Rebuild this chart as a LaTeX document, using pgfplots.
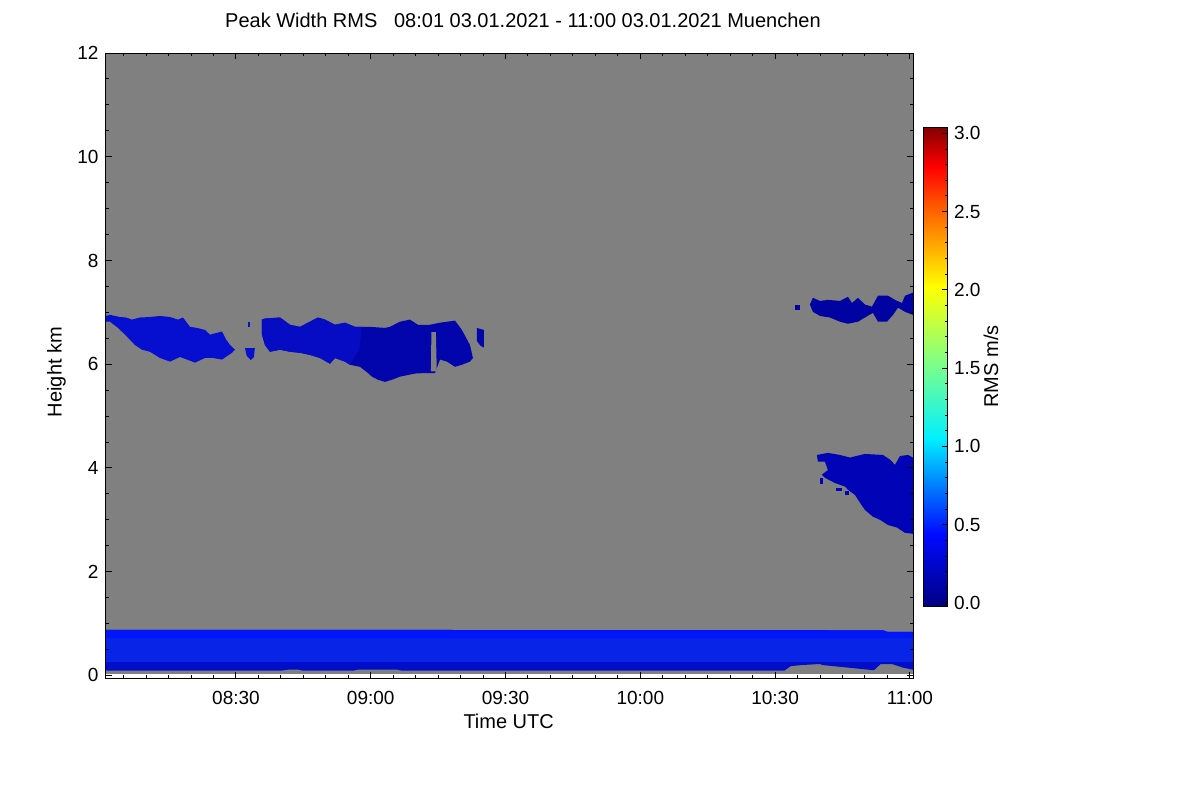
\documentclass[border=0pt]{standalone}
\usepackage{fontspec}
\setmainfont{Liberation Sans}
\usepackage{pgfplots}
\pgfplotsset{compat=1.18}
\definecolor{bggray}{RGB}{128,128,128}
\definecolor{bldark}{RGB}{0,14,202}
\definecolor{blmid}{RGB}{8,36,230}
\definecolor{bltop}{RGB}{0,22,248}
\definecolor{cla}{RGB}{6,14,208}
\definecolor{clb}{RGB}{2,4,172}
\definecolor{clbl}{RGB}{5,12,196}
\definecolor{clc}{RGB}{0,2,162}
\definecolor{cld}{RGB}{0,4,182}
\pgfplotsset{colormap={rms}{rgb255(0pt)=(0,0,130); rgb255(45pt)=(0,10,255); rgb255(105pt)=(0,240,255); rgb255(150pt)=(120,255,140); rgb255(200pt)=(255,255,0); rgb255(250pt)=(255,90,0); rgb255(275pt)=(255,0,0); rgb255(300pt)=(130,0,0)}}
\begin{document}
\begin{tikzpicture}
\path[use as bounding box] (0,0) rectangle (600pt,400pt);
\begin{axis}[
  at={(52.75pt,61pt)}, anchor=south west,
  scale only axis, width=403.75pt, height=312.5pt,
  xmin=0.96, xmax=180.7, ymin=-0.05, ymax=12,
  axis on top,
  xtick={30,60,90,120,150,180},
  xticklabels={08:30,09:00,09:30,10:00,10:30,11:00},
  minor xtick={5,10,...,175},
  ytick={0,2,...,12},
  minor ytick={0.5,1,...,11.5},
  tick align=inside,
  major tick length=3pt, minor tick length=1.7pt,
  every tick/.style={black, line width=0.5pt},
  axis line style={line width=0.5pt},
  tick label style={font=\fontsize{9.5}{11}\selectfont},
  /pgf/number format/assume math mode=true,
  xticklabel style={anchor=base, yshift=-13.15pt},
  xlabel={Time UTC},
  xlabel style={font=\fontsize{10}{12}\selectfont, at={(axis description cs:0.4993,-0.08)}, anchor=base},
  ylabel={Height km},
  ylabel style={font=\fontsize{10}{12}\selectfont, at={(axis description cs:-0.0542,0.4896)}, anchor=base},
  title={Peak Width RMS\ \ \ 08:01 03.01.2021 - 11:00 03.01.2021 Muenchen},
  title style={font=\fontsize{10}{12}\selectfont, at={(axis description cs:0.517,1.0219)}, anchor=base},
  colorbar, colormap name=rms, point meta min=-0.02, point meta max=3.04,
  colorbar style={
    scale only axis,
    at={(parent axis.north east)}, anchor=north west, xshift=-3.5pt, yshift=-37pt,
    width=12pt, height=239.5pt,
    ytick={0,0.5,...,3},
    minor tick num=4,
    ytick pos=right, yticklabel pos=right,
    tick align=inside,
    major tick length=2.5pt, minor tick length=1.2pt,
    every tick/.style={black, line width=0.4pt},
    axis line style={line width=0.5pt},
    yticklabel style={font=\fontsize{9.5}{11}\selectfont, /pgf/number format/.cd, fixed, fixed zerofill, precision=1, assume math mode=true},
    ylabel={RMS m/s},
    ylabel style={font=\fontsize{10}{12}\selectfont, at={(axis description cs:3.125,0.5)}, anchor=base},
  },
]
% no-data background
\addplot[fill=bggray, draw=none] coordinates {(0.96,0.03) (180.7,0.03) (180.7,12) (0.96,12)} --cycle;
% boundary layer
\addplot[fill=bldark, draw=none] coordinates {
(0.96,0.09) (40,0.09) (41.5,0.11) (44,0.11) (45,0.09) (56,0.09) (57,0.11) (66,0.11) (67,0.09)
(152,0.09) (153.5,0.18) (156,0.20) (160,0.22) (160.5,0.20) (172,0.10) (173.5,0.22) (176,0.22) (178.5,0.15) (180.7,0.11)
(180.7,0.84) (175,0.84) (174,0.87) (0.96,0.88)} --cycle;
\addplot[fill=blmid, draw=none] coordinates {(0.96,0.26) (180.7,0.26) (180.7,0.72) (0.96,0.72)} --cycle;
\addplot[fill=bltop, draw=none] coordinates {(0.96,0.72) (180.7,0.72) (180.7,0.84) (175,0.84) (174,0.87) (0.96,0.88)} --cycle;
% cloud 1
\addplot[fill=cla, draw=none] coordinates {
(0.96,6.93) (1.96,6.95) (4.18,6.91) (5.52,6.90) (6.86,6.86) (8.64,6.90) (10.86,6.91) (13.09,6.93) (15.31,6.91)
(17.09,6.86) (18.21,6.90) (19.76,6.72) (21.32,6.70) (23.10,6.66) (24.22,6.57) (26.89,6.63) (27.78,6.48) (28.67,6.37)
(29.78,6.28) (29.11,6.22) (26.89,6.09) (24.88,6.12) (23.10,6.12) (20.88,6.03) (19.10,6.09) (17.54,6.14) (15.31,6.05)
(13.09,6.12) (10.86,6.24) (9.08,6.28) (7.52,6.37) (5.30,6.57) (3.74,6.70) (1.96,6.82) (0.96,6.82)} --cycle;
% small blobs
\addplot[fill=cla, draw=none] coordinates {(32.0,6.31) (34.2,6.31) (34.0,6.14) (33.3,6.08) (32.4,6.16)} --cycle;
\addplot[fill=cla, draw=none] coordinates {(32.7,6.81) (33.2,6.81) (33.2,6.72) (32.7,6.72)} --cycle;
% cloud 2
\addplot[fill=clb, draw=none] coordinates {
(35.79,6.86) (36.46,6.88) (39.80,6.90) (42.02,6.76) (44.25,6.72) (46.47,6.82) (48.25,6.90) (49.81,6.86) (52.04,6.76)
(54.26,6.80) (56.49,6.72) (59.82,6.72) (63.16,6.70) (64.28,6.72) (66.50,6.82) (68.73,6.86) (70.51,6.76) (73.18,6.76)
(75.41,6.80) (78.75,6.84) (80.30,6.66) (82.08,6.37) (82.75,6.12) (82.08,6.05) (80.30,5.99) (78.75,5.95) (76.97,6.05)
(75.41,6.09) (74.30,5.83) (72.07,5.83) (69.84,5.82) (66.50,5.76) (64.72,5.70) (63.16,5.66) (61.61,5.70) (60.27,5.76)
(59.38,5.83) (57.60,5.95) (55.37,5.99) (54.26,6.05) (52.04,6.12) (50.92,6.01) (48.70,6.12) (46.47,6.18) (44.25,6.22)
(42.02,6.24) (39.80,6.28) (37.57,6.24) (36.46,6.37) (35.79,6.57)} --cycle;
\addplot[fill=clbl, draw=none] coordinates {(35.79,6.86) (36.46,6.88) (39.80,6.90) (42.02,6.76) (44.25,6.72) (46.47,6.82) (48.25,6.90) (49.81,6.86) (52.04,6.76) (54.26,6.80) (56.49,6.72) (58,6.72) (57.5,6.3) (55.37,5.99) (54.26,6.05) (52.04,6.12) (50.92,6.01) (48.70,6.12) (46.47,6.18) (44.25,6.22) (42.02,6.24) (39.80,6.28) (37.57,6.24) (36.46,6.37) (35.79,6.57)} --cycle;
% gap inside cloud 2
\addplot[fill=bggray, draw=none] coordinates {(73.5,6.62) (74.5,6.62) (74.7,5.86) (73.4,5.86)} --cycle;
\addplot[fill=clb, draw=none] coordinates {(83.6,6.70) (85.2,6.66) (85.2,6.32) (84.4,6.36) (83.6,6.45)} --cycle;
% upper right cloud
\addplot[fill=clc, draw=none] coordinates {(154.5,7.15) (155.5,7.15) (155.5,7.04) (154.5,7.04)} --cycle;
\addplot[fill=clc, draw=none] coordinates {
(157.75,7.15) (158.42,7.28) (159.98,7.22) (161.76,7.24) (164.44,7.22) (166.22,7.30) (167.11,7.18) (168.45,7.28)
(170.00,7.15) (171.56,7.11) (172.90,7.32) (175.13,7.32) (176.69,7.24) (178.25,7.18) (178.92,7.32) (180.7,7.38)
(180.7,6.95) (178.92,7.01) (177.36,7.09) (176.24,6.95) (174.91,6.82) (172.90,6.82) (171.79,6.99) (170.00,6.90)
(168.45,6.82) (166.22,6.78) (164.44,6.82) (162.21,6.90) (159.98,6.93) (158.42,7.01)} --cycle;
% lower right cloud
\addplot[fill=cld, draw=none] coordinates {
(159.31,4.25) (161.76,4.29) (164.44,4.25) (166.67,4.20) (170.00,4.27) (174.02,4.25) (175.58,4.16) (176.69,4.06)
(177.80,4.23) (179.59,4.25) (180.7,4.20) (180.7,2.73) (178.92,2.75) (177.14,2.85) (175.13,2.90) (173.35,3.00)
(171.79,3.06) (170.00,3.19) (168.89,3.33) (167.78,3.48) (166.22,3.58) (165.55,3.64) (163.32,3.71) (161.09,3.81)
(160.42,3.87) (161.76,3.96) (161.09,4.12) (159.53,4.12)} --cycle;
\addplot[fill=cld, draw=none] coordinates {(160.0,3.80) (160.6,3.80) (160.6,3.70) (160.0,3.70)} --cycle;
\addplot[fill=cld, draw=none] coordinates {(163.5,3.62) (164.8,3.62) (164.8,3.55) (163.5,3.55)} --cycle;
\addplot[fill=cld, draw=none] coordinates {(165.5,3.55) (166.5,3.55) (166.5,3.48) (165.5,3.48)} --cycle;
\end{axis}
\end{tikzpicture}
\end{document}
